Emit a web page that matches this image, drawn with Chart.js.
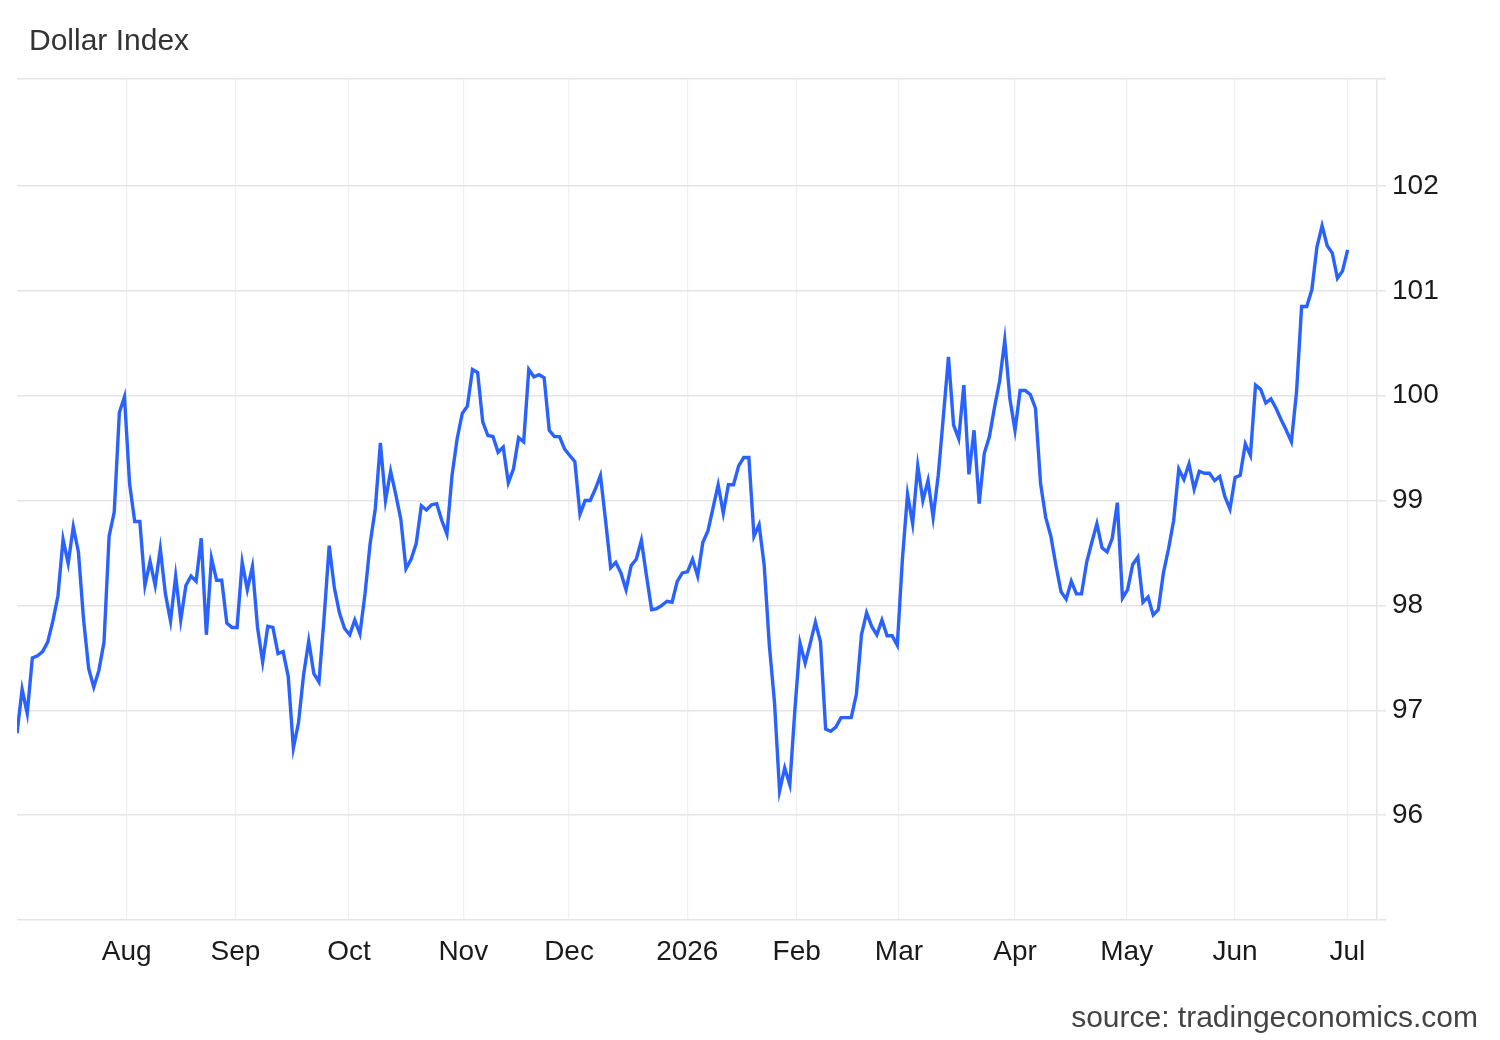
<!DOCTYPE html>
<html>
<head>
<meta charset="utf-8">
<script src="https://cdn.jsdelivr.net/npm/chart.js@4.4.1/dist/chart.umd.min.js"></script>
<style>
  html, body { margin: 0; padding: 0; background: #ffffff; }
  #wrap { position: relative; width: 1500px; height: 1040px; overflow: hidden; background: #ffffff; }
  #c { position: absolute; left: 0; top: 0; }
  #title { position: absolute; left: 29px; top: 25px; font-family: 'Liberation Sans', Arial, sans-serif; font-size: 30px; line-height: 30px; color: #333333; white-space: nowrap; }
  #source { position: absolute; right: 22px; top: 1002px; font-family: 'Liberation Sans', Arial, sans-serif; font-size: 30px; line-height: 30px; color: #444444; white-space: nowrap; }
</style>
</head>
<body>
<div id="wrap">
  <canvas id="c" width="1500" height="1040"></canvas>
  <div id="title">Dollar Index</div>
  <div id="source">source: tradingeconomics.com</div>
</div>
<script>
// Daily Dollar Index closes, early July 2025 -> 1 July 2026 (trading days)
const dollarIndex = [
  96.78, 97.20, 96.97, 97.50, 97.52, 97.56, 97.65, 97.85, 98.09, 98.63,
  98.40, 98.75, 98.51, 97.87, 97.40, 97.22, 97.38, 97.65, 98.66, 98.89,
  99.84, 99.99, 99.16, 98.80, 98.80, 98.19, 98.42, 98.19, 98.54, 98.11,
  97.85, 98.28, 97.86, 98.19, 98.28, 98.23, 98.64, 97.72, 98.45, 98.24,
  98.24, 97.83, 97.79, 97.79, 98.41, 98.15, 98.37, 97.79, 97.46, 97.80,
  97.79, 97.54, 97.56, 97.32, 96.64, 96.88, 97.34, 97.66, 97.35, 97.27,
  97.88, 98.57, 98.17, 97.93, 97.78, 97.72, 97.86, 97.73, 98.11, 98.59,
  98.92, 99.55, 99.00, 99.28, 99.06, 98.82, 98.35, 98.44, 98.59, 98.95,
  98.91, 98.96, 98.97, 98.81, 98.68, 99.24, 99.59, 99.83, 99.90, 100.25,
  100.22, 99.75, 99.62, 99.61, 99.46, 99.51, 99.17, 99.30, 99.60, 99.56,
  100.25, 100.18, 100.20, 100.17, 99.67, 99.61, 99.61, 99.49, 99.43, 99.37,
  98.87, 99.00, 99.00, 99.11, 99.24, 98.81, 98.36, 98.41, 98.31, 98.15,
  98.38, 98.44, 98.62, 98.28, 97.96, 97.97, 98.00, 98.04, 98.03, 98.23,
  98.31, 98.32, 98.44, 98.28, 98.60, 98.71, 98.93, 99.15, 98.88, 99.15,
  99.15, 99.33, 99.41, 99.41, 98.66, 98.77, 98.38, 97.62, 97.08, 96.23,
  96.45, 96.29, 97.01, 97.64, 97.45, 97.64, 97.84, 97.65, 96.82, 96.80,
  96.84, 96.93, 96.93, 96.93, 97.15, 97.72, 97.93, 97.80, 97.72, 97.86,
  97.71, 97.71, 97.62, 98.44, 99.06, 98.78, 99.33, 99.00, 99.19, 98.84,
  99.24, 99.80, 100.37, 99.72, 99.59, 100.10, 99.25, 99.67, 98.97, 99.45,
  99.61, 99.89, 100.14, 100.53, 99.97, 99.67, 100.05, 100.05, 100.01, 99.88,
  99.16, 98.84, 98.66, 98.38, 98.13, 98.06, 98.23, 98.11, 98.11, 98.41,
  98.60, 98.78, 98.55, 98.51, 98.64, 98.98, 98.07, 98.15, 98.39, 98.46,
  98.03, 98.08, 97.91, 97.96, 98.31, 98.54, 98.81, 99.30, 99.20, 99.35,
  99.11, 99.28, 99.26, 99.26, 99.19, 99.23, 99.04, 98.92, 99.22, 99.24,
  99.54, 99.43, 100.10, 100.06, 99.93, 99.97, 99.88, 99.77, 99.67, 99.56,
  100.03, 100.85, 100.85, 101.01, 101.42, 101.62, 101.43, 101.36, 101.12, 101.19,
  101.39
];

// Month boundary labels and where they fall on the trading-day index
const monthLabels = ['Aug', 'Sep', 'Oct', 'Nov', 'Dec', '2026', 'Feb', 'Mar', 'Apr', 'May', 'Jun', 'Jul'];
const monthTickIndex = [21.43, 42.69, 64.87, 87.20, 107.86, 130.97, 152.34, 172.33, 195.00, 216.82, 237.98, 259.93];

// Value axis range and labelled values
const yMin = 95;
const yMax = 103.02;
const yGridValues = [95, 96, 97, 98, 99, 100, 101, 102, 103.02];
const yLabelled = [96, 97, 98, 99, 100, 101, 102];
const xMaxIndex = 265.73;

const FONT = "'Liberation Sans', Arial, sans-serif";

new Chart(document.getElementById('c').getContext('2d'), {
  type: 'line',
  data: {
    datasets: [{
      data: dollarIndex.map((v, i) => ({ x: i, y: v })),
      borderColor: '#2962ff',
      borderWidth: 3.4,
      pointRadius: 0,
      pointHoverRadius: 0,
      tension: 0,
      fill: false
    }]
  },
  options: {
    responsive: false,
    animation: false,
    devicePixelRatio: 1,
    layout: { padding: { left: 17, top: 79, right: 0, bottom: 0 } },
    plugins: { legend: { display: false }, tooltip: { enabled: false } },
    scales: {
      x: {
        type: 'linear',
        bounds: 'data',
        min: 0,
        max: xMaxIndex,
        afterBuildTicks: (s) => { s.ticks = monthTickIndex.map(v => ({ value: v })); },
        afterFit: (s) => { s.height = 120; },
        grid: { color: '#edf0f4', lineWidth: 1.3, drawTicks: false },
        border: { display: false },
        ticks: {
          autoSkip: false,
          maxRotation: 0,
          minRotation: 0,
          padding: 15,
          color: '#1a1a1a',
          font: { family: FONT, size: 28 },
          callback: (v, i) => monthLabels[i]
        }
      },
      y: {
        position: 'right',
        min: yMin,
        max: yMax,
        afterBuildTicks: (s) => { s.ticks = yGridValues.map(v => ({ value: v })); },
        afterFit: (s) => { s.width = 123; },
        grid: { color: '#e5e5e5', lineWidth: 1.5, tickLength: 9 },
        border: { display: true, color: '#e5e5e5', width: 1.5 },
        ticks: {
          autoSkip: false,
          padding: 6,
          color: '#1a1a1a',
          font: { family: FONT, size: 28 },
          callback: (v) => yLabelled.includes(v) ? String(v) : ''
        }
      }
    }
  }
});
</script>
</body>
</html>
